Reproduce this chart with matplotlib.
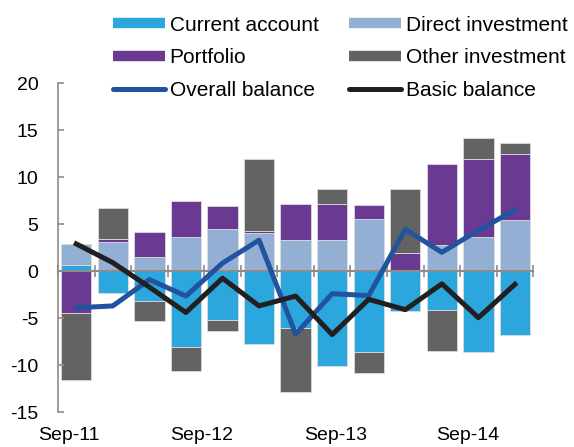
import numpy as np
import matplotlib
matplotlib.use('Agg')
import matplotlib.pyplot as plt
from matplotlib.lines import Line2D

plt.rcParams['font.family'] = ['Liberation Sans', 'DejaVu Sans']
plt.rcParams['axes.unicode_minus'] = False

# 季度数据
quarters = ['Sep-11', 'Dec-11', 'Mar-12', 'Jun-12', 'Sep-12', 'Dec-12', 'Mar-13',
            'Jun-13', 'Sep-13', 'Dec-13', 'Mar-14', 'Jun-14', 'Sep-14']
current_account = [0.7, -2.3, -3.2, -8.1, -5.25, -7.75, -6.0, -10.05, -8.55, -4.25, -4.15, -8.6, -6.8]
direct_investment = [2.2, 3.15, 1.55, 3.65, 4.45, 4.1, 3.3, 3.3, 5.5, 0.15, 2.8, 3.65, 5.4]
portfolio = [-4.5, 0.25, 2.65, 3.85, 2.5, 0.2, 3.8, 3.8, 1.5, 1.75, 8.65, 8.3, 7.05]
other_investment = [-7.1, 3.3, -2.1, -2.5, -1.15, 7.65, -6.85, 1.6, -2.25, 6.8, -4.35, 2.25, 1.2]
overall_balance = [-3.9, -3.7, -0.9, -2.65, 0.85, 3.3, -6.7, -2.4, -2.6, 4.45, 2.0, 4.35, 6.5]
basic_balance = [2.9, 0.9, -1.7, -4.4, -0.75, -3.7, -2.65, -6.75, -3.0, -4.1, -1.35, -4.95, -1.4]
xtick_labels = ['Sep-11', 'Sep-12', 'Sep-13', 'Sep-14']

series = [('Current account', current_account, '#2ba7de'),
          ('Direct investment', direct_investment, '#93b0d4'),
          ('Portfolio', portfolio, '#6a3a92'),
          ('Other investment', other_investment, '#636363')]

fig = plt.figure(figsize=(5.74, 4.47), dpi=100)
ax = fig.add_axes([0.101, 0.078, 0.828, 0.736])

x = np.arange(len(quarters))
pos_bottom = np.zeros(len(x))
neg_bottom = np.zeros(len(x))
for name, vals, col in series:
    v = np.array(vals)
    bottom = np.where(v >= 0, pos_bottom, neg_bottom)
    ax.bar(x, v, width=0.83, bottom=bottom, color=col, edgecolor='#dcdcdc',
           linewidth=0.6, zorder=1)
    pos_bottom += np.where(v >= 0, v, 0)
    neg_bottom += np.where(v < 0, v, 0)

ax.plot(x, overall_balance, color='#22539f', linewidth=3.6, zorder=4)
ax.plot(x, basic_balance, color='#231f20', linewidth=3.6, zorder=4)

ax.set_xlim(-0.5, len(x) - 0.5)
ax.set_ylim(-15, 20)
ax.set_yticks(np.arange(-15, 21, 5))

# 坐标轴样式
for s in ['top', 'right']:
    ax.spines[s].set_visible(False)
ax.spines['left'].set_color('#8c8c8c')
ax.spines['left'].set_linewidth(1.2)
ax.spines['bottom'].set_position(('data', 0))
ax.spines['bottom'].set_color('#8c8c8c')
ax.spines['bottom'].set_linewidth(1.5)
ax.spines['bottom'].set_zorder(3)
ax.set_xticks(np.arange(len(x) + 1) - 0.5)
ax.tick_params(axis='x', direction='inout', length=9, width=1.2, color='#8c8c8c',
               labelbottom=False)
ax.tick_params(axis='y', direction='in', length=4, width=1.2, color='#8c8c8c',
               labelsize=14, pad=14)

sec = ax.secondary_xaxis('bottom')
sec.set_xticks([-0.205, 3.44, 7.09, 10.72], labels=xtick_labels)
sec.spines['bottom'].set_visible(False)
sec.tick_params(length=0, labelsize=14, pad=11)

handles = [Line2D([], [], color='#2ba7de', lw=7.5, solid_capstyle='butt'),
           Line2D([], [], color='#6a3a92', lw=7.5, solid_capstyle='butt'),
           Line2D([], [], color='#22539f', lw=3.6, solid_capstyle='round'),
           Line2D([], [], color='#93b0d4', lw=7.5, solid_capstyle='butt'),
           Line2D([], [], color='#636363', lw=7.5, solid_capstyle='butt'),
           Line2D([], [], color='#231f20', lw=3.6, solid_capstyle='round')]
labels = ['Current account', 'Portfolio', 'Overall balance',
          'Direct investment', 'Other investment', 'Basic balance']
fig.legend(handles, labels, ncol=2, loc='upper left', bbox_to_anchor=(0.196, 0.965),
           frameon=False, fontsize=15, handlelength=2.5, handletextpad=0.24,
           columnspacing=1.45, labelspacing=0.66, borderpad=0, borderaxespad=0)

fig.savefig('out.png', dpi=100)
